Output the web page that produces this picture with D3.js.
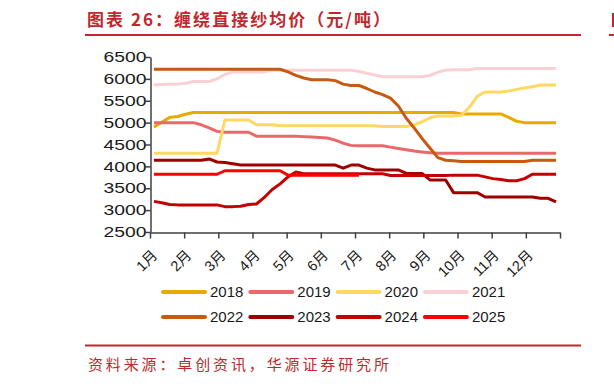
<!DOCTYPE html>
<html>
<head>
<meta charset="utf-8">
<script src="https://cdn.jsdelivr.net/npm/d3@7"></script>
<style>
  body { margin: 0; background: #fff; }
  svg { display: block; }
</style>
</head>
<body>
<div id="chart"></div>
<script>
// weekly prices, yuan/ton
var years = ["2018", "2019", "2020", "2021", "2022", "2023", "2024", "2025"]
var months = ["1月", "2月", "3月", "4月", "5月", "6月", "7月", "8月", "9月", "10月", "11月", "12月"]
var yTicks = [2500, 3000, 3500, 4000, 4500, 5000, 5500, 6000, 6500]

var s2018 = [4900, 5010, 5120, 5140, 5190, 5230,
  5230, 5230, 5230, 5230, 5230, 5230, 5230, 5230, 5230, 5230, 5230,
  5230, 5230, 5230, 5230, 5230, 5230, 5230, 5230, 5230, 5230, 5230,
  5230, 5230, 5230, 5230, 5230, 5230, 5230, 5230, 5230, 5230, 5230,
  5200, 5200, 5200, 5200, 5200, 5200, 5120, 5030,
  5000, 5000, 5000, 5000, 5000]
var s2019 = [5000, 5000, 5000, 5000, 5000, 5000, 4950, 4880, 4800,
  4780, 4780, 4780, 4780, 4690, 4690, 4690, 4690, 4690, 4690,
  4680, 4670, 4660, 4650, 4600, 4530, 4480, 4470, 4470, 4470, 4470,
  4440, 4410, 4380, 4350, 4330, 4310,
  4300, 4300, 4300, 4300, 4300, 4300, 4300, 4300,
  4300, 4300, 4300, 4300, 4300, 4300, 4300, 4300]
var s2020 = [4300, 4300, 4300, 4300, 4300, 4300, 4300, 4300, 4300,
  5060, 5060, 5060, 5060, 4950, 4950, 4950,
  4930, 4930, 4930, 4930, 4930, 4930, 4930, 4930, 4930, 4930, 4930, 4930, 4930,
  4910, 4910, 4910, 4910, 4950, 5020, 5110, 5150, 5150, 5150, 5170,
  5350, 5600, 5700, 5700, 5700, 5720, 5760, 5790, 5820, 5860, 5860, 5860]
var s2021 = [5860, 5870, 5880, 5880, 5900, 5940, 5940, 5940, 6000, 6100,
  6160, 6160, 6160, 6160, 6160,
  6200, 6200, 6200, 6200, 6200, 6200, 6200, 6200, 6200, 6200, 6200,
  6170, 6130, 6090, 6050, 6050, 6050, 6050, 6050, 6050,
  6080, 6150, 6200, 6210, 6210, 6210,
  6240, 6240, 6240, 6240, 6240, 6240, 6240, 6240, 6240, 6240, 6240]
var s2022 = [6220, 6220, 6220, 6220, 6220, 6220, 6220, 6220, 6220, 6220,
  6220, 6220, 6220, 6220, 6220, 6220, 6220, 6160, 6080, 6020,
  5980, 5980, 5980, 5960, 5880, 5850, 5850,
  5780, 5700, 5640, 5560, 5380, 5100, 4880, 4640, 4420, 4200, 4140, 4130,
  4110, 4110, 4110, 4110, 4110, 4110, 4110, 4110, 4110,
  4140, 4140, 4140, 4140]
var s2023 = [4140, 4140, 4140, 4140, 4140, 4140, 4140, 4170, 4100, 4090, 4060,
  4030, 4030, 4030, 4030, 4030, 4030, 4030, 4030, 4030, 4030, 4030, 4030, 4030,
  3960, 4030, 4030, 3960, 3920, 3920, 3920, 3920,
  3840, 3840, 3840, 3690, 3690, 3690, 3400, 3400, 3400, 3400,
  3300, 3300, 3300, 3300, 3300, 3300, 3300, 3270, 3270, 3190]
var s2024 = [3200, 3170, 3130, 3120, 3120, 3120, 3120, 3120, 3120,
  3080, 3080, 3090, 3130, 3140, 3290, 3470, 3600, 3760, 3870,
  3830, 3830, 3830, 3830, 3830, 3830, 3830, 3830, 3830, 3830, 3830,
  3790, 3790, 3790, 3790, 3790, 3790, 3790, 3790,
  3800, 3800, 3800, 3800, 3760, 3720, 3700, 3670, 3670, 3720,
  3820, 3820, 3820, 3820]
var s2025 = [3820, 3820, 3820, 3820, 3820, 3820, 3820, 3820, 3820,
  3900, 3900, 3900, 3900, 3900, 3900, 3900, 3900,
  3800, 3800, 3800, 3800, 3800, 3800, 3800, 3800, 3800, 3800]

var series = [s2018, s2019, s2020, s2021, s2022, s2023, s2024, s2025]
var colors = ["#E8A900", "#EA676A", "#FFD862", "#F9D0D3", "#C65A12", "#9E0000", "#C40000", "#FF0000"]

var red = "#C0282D"
var axisColor = "#404040"

var svg = d3.select("#chart")
  .append("svg")
    .attr("width", 614)
    .attr("height", 384)

// header + footer
svg.append("text")
  .attr("x", 87).attr("y", 26)
  .attr("textLength", 303).attr("lengthAdjust", "spacing")
  .style("font-family", "Noto Sans CJK SC").style("font-weight", "700")
  .style("font-size", "17px").style("fill", red)
  .text("图表 26：缠绕直接纱均价（元/吨）")
// edge of the next chart's header, cut by the page
svg.append("rect").attr("x", 612).attr("y", 13).attr("width", 2).attr("height", 14)
  .style("fill", red)
svg.append("line").attr("x1", 85).attr("x2", 581).attr("y1", 35).attr("y2", 35)
  .style("stroke", red).style("stroke-width", 2)
svg.append("line").attr("x1", 609).attr("x2", 614).attr("y1", 35).attr("y2", 35)
  .style("stroke", red).style("stroke-width", 2)
svg.append("line").attr("x1", 85).attr("x2", 581).attr("y1", 345.5).attr("y2", 345.5)
  .style("stroke", red).style("stroke-width", 2)
svg.append("text")
  .attr("x", 88).attr("y", 370)
  .attr("textLength", 301).attr("lengthAdjust", "spacing")
  .style("font-family", "Noto Sans CJK SC")
  .style("font-size", "15px").style("fill", red)
  .text("资料来源：卓创资讯，华源证券研究所")

// scales
var x = d3.scaleLinear()
  .domain([0, 52])
  .range([150, 560])
var monthX = d3.scaleLinear()
  .domain([0, 12])
  .range([150, 560])
var y = d3.scaleLinear()
  .domain([2500, 6500])
  .range([232, 57])

// Y axis
var yAxis = svg.append("g")
  .attr("transform", "translate(150.5,0)")
  .call(d3.axisLeft(y).tickValues(yTicks).tickFormat(d3.format("d")).tickSize(5).tickSizeOuter(0))
yAxis.select(".domain").style("stroke", axisColor).style("stroke-width", 1.5)
yAxis.selectAll(".tick line").style("stroke", axisColor).style("stroke-width", 1.5)
yAxis.selectAll(".tick text")
  .attr("x", -4)
  .attr("textLength", 43).attr("lengthAdjust", "spacingAndGlyphs")
  .style("font-family", "Liberation Sans").style("font-size", "14.5px").style("fill", "#1a1a1a")

// X axis
var xAxis = svg.append("g")
  .attr("transform", "translate(0,232.5)")
  .call(d3.axisBottom(monthX).tickValues(d3.range(13)).tickFormat("").tickSize(6).tickSizeOuter(0))
xAxis.select(".domain").style("stroke", axisColor).style("stroke-width", 1.5)
xAxis.selectAll(".tick line").style("stroke", axisColor).style("stroke-width", 1.5)

svg.append("g")
  .selectAll("text")
  .data(months)
  .enter()
  .append("text")
    .attr("transform", function (d, i) { return "translate(" + (monthX(i) + 1) + ",249) rotate(-45)" })
    .attr("text-anchor", "end")
    .attr("dy", "0.7em")
    .style("font-family", "Liberation Sans, Noto Sans CJK SC").style("font-size", "14.5px").style("fill", "#1a1a1a")
    .text(function (d) { return d })

// lines
var line = d3.line()
  .x(function (d, i) { return x(i + 0.5) })
  .y(function (d) { return y(d) })

svg.append("g")
  .selectAll("path")
  .data(series)
  .enter()
  .append("path")
    .attr("d", line)
    .style("fill", "none")
    .style("stroke", function (d, i) { return colors[i] })
    .style("stroke-width", 3)
    .style("stroke-linejoin", "round")

// legend
var legend = svg.append("g")
  .selectAll("g")
  .data(years)
  .enter()
  .append("g")
    .attr("transform", function (d, i) { return "translate(" + (163 + (i % 4) * 87.3) + "," + (292 + Math.floor(i / 4) * 25) + ")" })
legend.append("line")
  .attr("x1", 0).attr("x2", 42)
  .style("stroke", function (d, i) { return colors[i] })
  .style("stroke-width", 4)
  .style("stroke-linecap", "round")
legend.append("text")
  .attr("x", 47).attr("dy", "0.36em")
  .style("font-family", "Liberation Sans").style("font-size", "15px").style("fill", "#1a1a1a")
  .text(function (d) { return d })
</script>
</body>
</html>
